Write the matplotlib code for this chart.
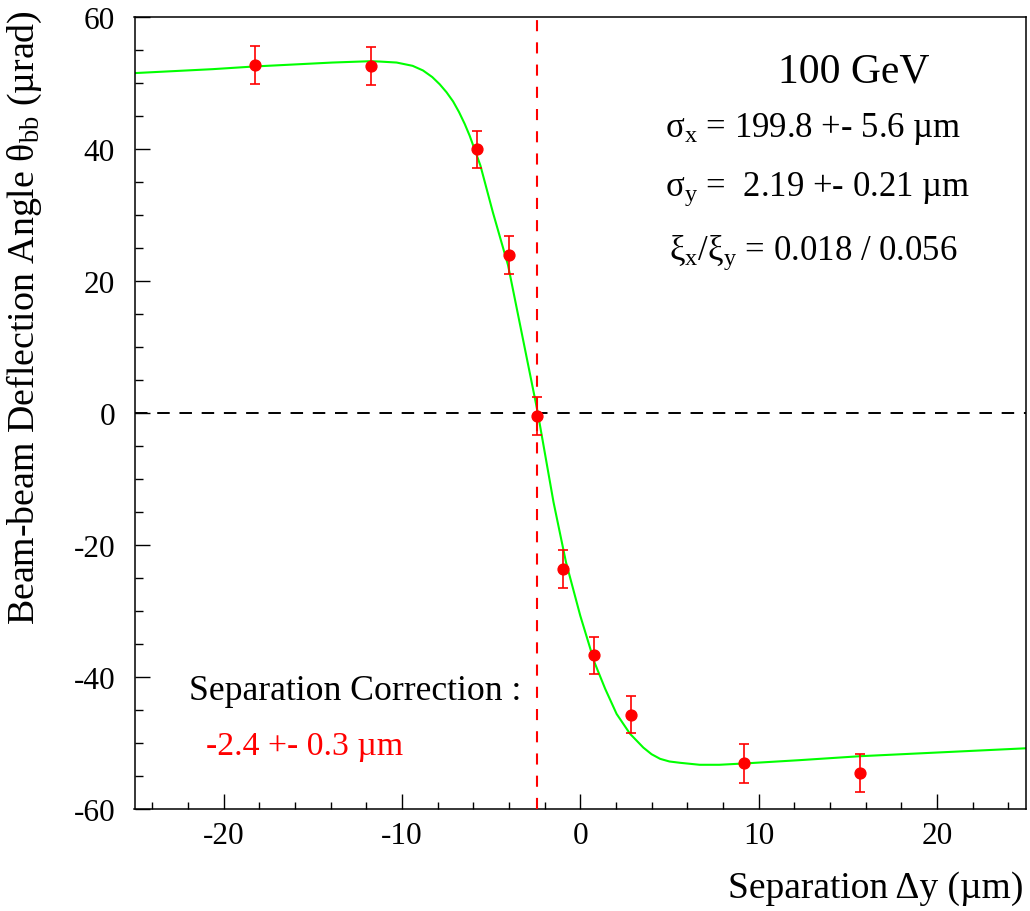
import matplotlib
matplotlib.use("Agg")
import matplotlib.pyplot as plt
from matplotlib.ticker import MultipleLocator, FormatStrFormatter

# ---- data ----
sep_x = [-18.26, -11.76, -5.79, -4.00, -2.45, -0.95, 0.79, 2.83, 9.16, 15.71]
theta_y = [52.7, 52.6, 39.95, 23.9, -0.4, -23.6, -36.7, -45.7, -53.1, -54.5]
theta_err = [2.9, 2.9, 2.8, 2.9, 2.9, 2.9, 2.8, 2.85, 2.9, 2.9]

fit_x = [-25.0, -20.6, -18.3, -13.9, -11.8, -11.25, -10.3, -9.4, -8.82, -8.3,
         -7.88, -7.5, -7.13, -6.8, -6.48, -6.2, -5.6, -4.9, -4.05, -3.4,
         -2.4, -1.5, -0.8, 0.0, 0.8, 1.4, 2.04, 2.79, 3.54, 4.0,
         4.48, 5.0, 5.6, 6.7, 7.8, 9.2, 12.3, 15.7, 25.0]
fit_y = [51.5, 52.1, 52.5, 53.1, 53.3, 53.25, 53.1, 52.6, 51.9, 50.9,
         49.8, 48.6, 47.2, 45.6, 43.8, 42.0, 37.5, 30.4, 22.4, 13.7,
         0.3, -13.5, -22.6, -30.7, -37.8, -41.8, -45.6, -48.6, -50.7, -51.7,
         -52.4, -52.8, -53.0, -53.3, -53.3, -53.1, -52.6, -52.0, -50.8]

sep_correction = -2.4

xlim = (-25, 25)
ylim = (-60, 60)

plt.rcParams['font.family'] = ['Liberation Serif', 'DejaVu Serif']
plt.rcParams['mathtext.fontset'] = 'custom'
plt.rcParams['mathtext.rm'] = 'Liberation Serif'
plt.rcParams['mathtext.it'] = 'Liberation Serif:italic'
plt.rcParams['axes.unicode_minus'] = False
plt.rcParams['lines.scale_dashes'] = False

fig = plt.figure(figsize=(10.3, 9.12), dpi=100)
ax = fig.add_axes([134.5/1030, 1 - 810/912, (1026-134.5)/1030, (810-18)/912])

ax.set_xlim(*xlim)
ax.set_ylim(*ylim)

# fit curve
ax.plot(fit_x, fit_y, color='#00ff00', lw=1.5, zorder=2, solid_joinstyle='round')

# dashed reference lines
ax.axhline(0, color='black', lw=1.4, dashes=(9, 7), zorder=3)
ax.axvline(sep_correction, color='#ff0000', lw=1.5, dashes=(8, 8), zorder=3)

# data
ax.errorbar(sep_x, theta_y, yerr=theta_err, fmt='o', color='#ff0000',
            ms=7.8, elinewidth=1.2, capsize=3.6, capthick=1.2, zorder=4)

# axes styling
for s in ax.spines.values():
    s.set_linewidth(1.1)
ax.xaxis.set_major_locator(MultipleLocator(10))
ax.xaxis.set_minor_locator(MultipleLocator(2))
ax.yaxis.set_major_locator(MultipleLocator(20))
ax.yaxis.set_minor_locator(MultipleLocator(5))
ax.xaxis.set_major_formatter(FormatStrFormatter('%d'))
ax.yaxis.set_major_formatter(FormatStrFormatter('%d'))
ax.tick_params(which='both', direction='in', top=False, right=False, width=1.0)
ax.tick_params(which='major', length=10.8)
ax.tick_params(which='minor', length=5.4)
ax.tick_params(axis='x', which='major', pad=8.5, labelsize=22.5)
ax.tick_params(axis='y', which='major', pad=14, labelsize=22.5)

# axis titles
fig.text(1023/1030, 1 - 898/912, 'Separation \u0394y (\u00b5m)', ha='right', va='baseline', fontsize=27)
fig.text(24/1030, 1 - 10/912, 'Beam-beam Deflection Angle \u03b8$_{\\mathrm{bb}}$ (\u00b5rad)',
         ha='center', va='top', rotation=90, fontsize=27.3)

# annotations
ax.text(15.35, 50.2, '100 GeV', ha='center', va='baseline', fontsize=30)
ax.text(4.76, 42.0, '\u03c3$_{\\mathrm{x}}$ = 199.8 +- 5.6 \u00b5m', ha='left', va='baseline', fontsize=25)
ax.text(4.76, 33.0, '\u03c3$_{\\mathrm{y}}$ =  2.19 +- 0.21 \u00b5m', ha='left', va='baseline', fontsize=25)
ax.text(5.0, 23.3, '\u03be$_{\\mathrm{x}}$/\u03be$_{\\mathrm{y}}$ = 0.018 / 0.056', ha='left', va='baseline', fontsize=25)
ax.text(-21.97, -43.3, 'Separation Correction :', ha='left', va='baseline', fontsize=25.7)
ax.text(-21.0, -51.7, '-2.4 +- 0.3 \u00b5m', ha='left', va='baseline', fontsize=24.3, color='#ff0000')

fig.savefig('out.png', dpi=100)
